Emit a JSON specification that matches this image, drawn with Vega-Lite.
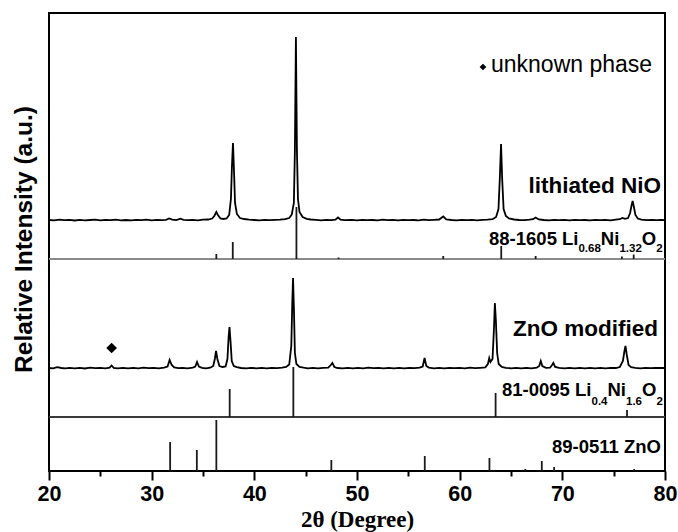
{
  "$schema": "https://vega.github.io/schema/vega-lite/v6.json",
  "width": 616,
  "height": 458,
  "autosize": "none",
  "padding": {"left": 49, "top": 13, "right": 13, "bottom": 61},
  "config": {"view": {"stroke": "#000", "strokeWidth": 2}, "font": "Liberation Sans"},
  "datasets": {
    "sep": [{"x": 20, "x2": 80, "y": 212, "c": "a"}, {"x": 20, "x2": 80, "y": 54, "c": "b"}],
    "sticks": [
      {"x": 36.3, "y": 212, "y2": 217}, {"x": 37.9, "y": 212, "y2": 229}, {"x": 44.1, "y": 212, "y2": 264},
      {"x": 48.2, "y": 212, "y2": 213.5}, {"x": 58.4, "y": 212, "y2": 215}, {"x": 64.05, "y": 212, "y2": 225},
      {"x": 67.4, "y": 212, "y2": 215}, {"x": 75.8, "y": 212, "y2": 214.5}, {"x": 76.95, "y": 212, "y2": 216.5},
      {"x": 37.6, "y": 54, "y2": 82}, {"x": 43.8, "y": 54, "y2": 104}, {"x": 63.5, "y": 54, "y2": 78}, {"x": 76.3, "y": 54, "y2": 61},
      {"x": 31.8, "y": 0, "y2": 29}, {"x": 34.4, "y": 0, "y2": 21}, {"x": 36.3, "y": 0, "y2": 51}, {"x": 47.5, "y": 0, "y2": 11},
      {"x": 56.6, "y": 0, "y2": 15}, {"x": 62.9, "y": 0, "y2": 13}, {"x": 66.4, "y": 0, "y2": 2}, {"x": 68.0, "y": 0, "y2": 10},
      {"x": 69.2, "y": 0, "y2": 4}, {"x": 77.0, "y": 0, "y2": 2}
    ],
    "pat": [
      {"s": "a", "x": 20, "y": 251.0}, {"s": "a", "x": 20.5, "y": 250.6}, {"s": "a", "x": 21, "y": 251.3}, {"s": "a", "x": 21.5, "y": 250.8},
      {"s": "a", "x": 22, "y": 251.1}, {"s": "a", "x": 22.5, "y": 250.5}, {"s": "a", "x": 23, "y": 251.2}, {"s": "a", "x": 23.5, "y": 250.7},
      {"s": "a", "x": 24, "y": 251.0}, {"s": "a", "x": 24.5, "y": 251.4}, {"s": "a", "x": 25, "y": 250.6}, {"s": "a", "x": 25.5, "y": 251.1},
      {"s": "a", "x": 26, "y": 250.8}, {"s": "a", "x": 26.5, "y": 251.3}, {"s": "a", "x": 27, "y": 250.7}, {"s": "a", "x": 27.5, "y": 251.0},
      {"s": "a", "x": 28, "y": 250.6}, {"s": "a", "x": 28.5, "y": 251.2}, {"s": "a", "x": 29, "y": 250.9}, {"s": "a", "x": 29.5, "y": 251.3},
      {"s": "a", "x": 30, "y": 250.7}, {"s": "a", "x": 30.5, "y": 251.1}, {"s": "a", "x": 31, "y": 250.8}, {"s": "a", "x": 31.4, "y": 251.2},
      {"s": "a", "x": 31.7, "y": 252.6}, {"s": "a", "x": 32.0, "y": 251.3}, {"s": "a", "x": 32.4, "y": 250.9}, {"s": "a", "x": 32.8, "y": 252.4},
      {"s": "a", "x": 33.1, "y": 251.2}, {"s": "a", "x": 33.5, "y": 250.8}, {"s": "a", "x": 34, "y": 251.1}, {"s": "a", "x": 34.5, "y": 250.7},
      {"s": "a", "x": 35, "y": 251.3}, {"s": "a", "x": 35.5, "y": 251.5}, {"s": "a", "x": 35.9, "y": 252.5}, {"s": "a", "x": 36.1, "y": 255},
      {"s": "a", "x": 36.3, "y": 259}, {"s": "a", "x": 36.45, "y": 256}, {"s": "a", "x": 36.7, "y": 252.5}, {"s": "a", "x": 37.0, "y": 252},
      {"s": "a", "x": 37.3, "y": 252.5}, {"s": "a", "x": 37.55, "y": 256}, {"s": "a", "x": 37.72, "y": 272}, {"s": "a", "x": 37.82, "y": 305},
      {"s": "a", "x": 37.92, "y": 328}, {"s": "a", "x": 38.02, "y": 300}, {"s": "a", "x": 38.12, "y": 268}, {"s": "a", "x": 38.3, "y": 257},
      {"s": "a", "x": 38.6, "y": 253}, {"s": "a", "x": 39, "y": 252}, {"s": "a", "x": 39.5, "y": 251.3}, {"s": "a", "x": 40, "y": 251.0},
      {"s": "a", "x": 40.5, "y": 250.6}, {"s": "a", "x": 41, "y": 251.2}, {"s": "a", "x": 41.5, "y": 250.8}, {"s": "a", "x": 42, "y": 251.1},
      {"s": "a", "x": 42.5, "y": 251.3}, {"s": "a", "x": 43, "y": 251.8}, {"s": "a", "x": 43.4, "y": 253}, {"s": "a", "x": 43.65, "y": 256.5},
      {"s": "a", "x": 43.85, "y": 268}, {"s": "a", "x": 43.95, "y": 320}, {"s": "a", "x": 44.05, "y": 434}, {"s": "a", "x": 44.15, "y": 320},
      {"s": "a", "x": 44.25, "y": 272}, {"s": "a", "x": 44.4, "y": 259}, {"s": "a", "x": 44.7, "y": 254}, {"s": "a", "x": 45.1, "y": 252.2},
      {"s": "a", "x": 45.5, "y": 251.5}, {"s": "a", "x": 46, "y": 251.1}, {"s": "a", "x": 46.5, "y": 250.7}, {"s": "a", "x": 47, "y": 251.2},
      {"s": "a", "x": 47.5, "y": 250.8}, {"s": "a", "x": 47.9, "y": 251.3}, {"s": "a", "x": 48.15, "y": 253.5}, {"s": "a", "x": 48.4, "y": 251.4},
      {"s": "a", "x": 48.8, "y": 250.8}, {"s": "a", "x": 49.5, "y": 251.1}, {"s": "a", "x": 50, "y": 250.7}, {"s": "a", "x": 50.5, "y": 251.2},
      {"s": "a", "x": 51, "y": 250.8}, {"s": "a", "x": 51.5, "y": 251.0}, {"s": "a", "x": 52, "y": 250.6}, {"s": "a", "x": 52.5, "y": 251.3},
      {"s": "a", "x": 53, "y": 250.9}, {"s": "a", "x": 53.5, "y": 251.1}, {"s": "a", "x": 54, "y": 250.7}, {"s": "a", "x": 54.5, "y": 251.2},
      {"s": "a", "x": 55, "y": 250.8}, {"s": "a", "x": 55.5, "y": 251.0}, {"s": "a", "x": 56, "y": 250.6}, {"s": "a", "x": 56.5, "y": 251.3},
      {"s": "a", "x": 57, "y": 250.9}, {"s": "a", "x": 57.5, "y": 251.2}, {"s": "a", "x": 58.0, "y": 251.5}, {"s": "a", "x": 58.4, "y": 254.5},
      {"s": "a", "x": 58.7, "y": 251.6}, {"s": "a", "x": 59.2, "y": 251.0}, {"s": "a", "x": 59.7, "y": 250.7}, {"s": "a", "x": 60.2, "y": 251.2},
      {"s": "a", "x": 60.7, "y": 250.8}, {"s": "a", "x": 61.2, "y": 251.1}, {"s": "a", "x": 61.7, "y": 250.7}, {"s": "a", "x": 62.2, "y": 251.2},
      {"s": "a", "x": 62.7, "y": 251.4}, {"s": "a", "x": 63.2, "y": 251.8}, {"s": "a", "x": 63.55, "y": 254}, {"s": "a", "x": 63.78, "y": 262},
      {"s": "a", "x": 63.92, "y": 295}, {"s": "a", "x": 64.03, "y": 327}, {"s": "a", "x": 64.14, "y": 292}, {"s": "a", "x": 64.28, "y": 262},
      {"s": "a", "x": 64.5, "y": 255}, {"s": "a", "x": 64.8, "y": 252.5}, {"s": "a", "x": 65.3, "y": 251.5}, {"s": "a", "x": 65.8, "y": 251.0},
      {"s": "a", "x": 66.3, "y": 250.8}, {"s": "a", "x": 66.8, "y": 251.3}, {"s": "a", "x": 67.15, "y": 251.8}, {"s": "a", "x": 67.4, "y": 253.5},
      {"s": "a", "x": 67.7, "y": 251.6}, {"s": "a", "x": 68.2, "y": 251.0}, {"s": "a", "x": 68.7, "y": 250.7}, {"s": "a", "x": 69.2, "y": 251.2},
      {"s": "a", "x": 69.7, "y": 250.8}, {"s": "a", "x": 70.2, "y": 251.1}, {"s": "a", "x": 70.7, "y": 250.6}, {"s": "a", "x": 71.2, "y": 251.2},
      {"s": "a", "x": 71.7, "y": 250.8}, {"s": "a", "x": 72.2, "y": 251.0}, {"s": "a", "x": 72.7, "y": 250.6}, {"s": "a", "x": 73.2, "y": 251.2},
      {"s": "a", "x": 73.7, "y": 250.8}, {"s": "a", "x": 74.2, "y": 251.1}, {"s": "a", "x": 74.7, "y": 250.7}, {"s": "a", "x": 75.2, "y": 251.3},
      {"s": "a", "x": 75.6, "y": 251.8}, {"s": "a", "x": 75.85, "y": 253}, {"s": "a", "x": 76.1, "y": 252.2}, {"s": "a", "x": 76.4, "y": 253},
      {"s": "a", "x": 76.6, "y": 258}, {"s": "a", "x": 76.75, "y": 266}, {"s": "a", "x": 76.85, "y": 270}, {"s": "a", "x": 76.97, "y": 264},
      {"s": "a", "x": 77.12, "y": 256}, {"s": "a", "x": 77.35, "y": 252.5}, {"s": "a", "x": 77.7, "y": 251.3}, {"s": "a", "x": 78.2, "y": 250.9},
      {"s": "a", "x": 78.7, "y": 251.2}, {"s": "a", "x": 79.2, "y": 250.8}, {"s": "a", "x": 79.6, "y": 251.1}, {"s": "a", "x": 80, "y": 250.9},

      {"s": "b", "x": 20, "y": 103.0}, {"s": "b", "x": 20.4, "y": 102.6}, {"s": "b", "x": 20.8, "y": 103.8}, {"s": "b", "x": 21.2, "y": 103.0},
      {"s": "b", "x": 21.6, "y": 102.6}, {"s": "b", "x": 22, "y": 103.2}, {"s": "b", "x": 22.5, "y": 102.7}, {"s": "b", "x": 23, "y": 103.1},
      {"s": "b", "x": 23.5, "y": 102.5}, {"s": "b", "x": 24, "y": 103.3}, {"s": "b", "x": 24.5, "y": 102.8}, {"s": "b", "x": 25, "y": 103.1},
      {"s": "b", "x": 25.5, "y": 102.6}, {"s": "b", "x": 25.9, "y": 103.3}, {"s": "b", "x": 26.1, "y": 105.5}, {"s": "b", "x": 26.3, "y": 103.2},
      {"s": "b", "x": 26.7, "y": 102.7}, {"s": "b", "x": 27.2, "y": 103.2}, {"s": "b", "x": 27.7, "y": 102.6}, {"s": "b", "x": 28.2, "y": 103.1},
      {"s": "b", "x": 28.7, "y": 102.7}, {"s": "b", "x": 29.2, "y": 103.3}, {"s": "b", "x": 29.7, "y": 102.8}, {"s": "b", "x": 30.2, "y": 103.1},
      {"s": "b", "x": 30.7, "y": 102.6}, {"s": "b", "x": 31.2, "y": 103.3}, {"s": "b", "x": 31.55, "y": 104.5}, {"s": "b", "x": 31.75, "y": 111},
      {"s": "b", "x": 31.95, "y": 106}, {"s": "b", "x": 32.2, "y": 103.5}, {"s": "b", "x": 32.6, "y": 102.8}, {"s": "b", "x": 33.0, "y": 103.2},
      {"s": "b", "x": 33.5, "y": 102.7}, {"s": "b", "x": 34.0, "y": 103.4}, {"s": "b", "x": 34.25, "y": 104.5}, {"s": "b", "x": 34.42, "y": 109},
      {"s": "b", "x": 34.6, "y": 104.5}, {"s": "b", "x": 34.9, "y": 103.1}, {"s": "b", "x": 35.3, "y": 102.7}, {"s": "b", "x": 35.7, "y": 103.3},
      {"s": "b", "x": 36.0, "y": 105}, {"s": "b", "x": 36.15, "y": 112}, {"s": "b", "x": 36.27, "y": 120}, {"s": "b", "x": 36.4, "y": 112},
      {"s": "b", "x": 36.6, "y": 105}, {"s": "b", "x": 36.9, "y": 104}, {"s": "b", "x": 37.2, "y": 104.5}, {"s": "b", "x": 37.38, "y": 112},
      {"s": "b", "x": 37.5, "y": 135}, {"s": "b", "x": 37.58, "y": 144}, {"s": "b", "x": 37.68, "y": 130}, {"s": "b", "x": 37.8, "y": 110},
      {"s": "b", "x": 38.0, "y": 105}, {"s": "b", "x": 38.3, "y": 103.8}, {"s": "b", "x": 38.7, "y": 103.0}, {"s": "b", "x": 39.2, "y": 102.6},
      {"s": "b", "x": 39.7, "y": 103.2}, {"s": "b", "x": 40.2, "y": 102.7}, {"s": "b", "x": 40.7, "y": 103.1}, {"s": "b", "x": 41.2, "y": 102.6},
      {"s": "b", "x": 41.7, "y": 103.2}, {"s": "b", "x": 42.2, "y": 102.8}, {"s": "b", "x": 42.7, "y": 103.3}, {"s": "b", "x": 43.1, "y": 104},
      {"s": "b", "x": 43.4, "y": 106.5}, {"s": "b", "x": 43.6, "y": 125}, {"s": "b", "x": 43.7, "y": 170}, {"s": "b", "x": 43.77, "y": 193},
      {"s": "b", "x": 43.86, "y": 160}, {"s": "b", "x": 43.95, "y": 118}, {"s": "b", "x": 44.1, "y": 107}, {"s": "b", "x": 44.4, "y": 104},
      {"s": "b", "x": 44.8, "y": 103.3}, {"s": "b", "x": 45.2, "y": 102.7}, {"s": "b", "x": 45.7, "y": 103.2}, {"s": "b", "x": 46.2, "y": 102.6},
      {"s": "b", "x": 46.7, "y": 103.1}, {"s": "b", "x": 47.2, "y": 103.3}, {"s": "b", "x": 47.45, "y": 106}, {"s": "b", "x": 47.6, "y": 108},
      {"s": "b", "x": 47.8, "y": 104}, {"s": "b", "x": 48.1, "y": 103.0}, {"s": "b", "x": 48.6, "y": 102.6}, {"s": "b", "x": 49.1, "y": 103.2},
      {"s": "b", "x": 49.6, "y": 102.7}, {"s": "b", "x": 50.1, "y": 103.1}, {"s": "b", "x": 50.6, "y": 102.6}, {"s": "b", "x": 51.1, "y": 103.3},
      {"s": "b", "x": 51.6, "y": 102.8}, {"s": "b", "x": 52.1, "y": 103.1}, {"s": "b", "x": 52.6, "y": 102.6}, {"s": "b", "x": 53.1, "y": 103.2},
      {"s": "b", "x": 53.6, "y": 102.7}, {"s": "b", "x": 54.1, "y": 103.1}, {"s": "b", "x": 54.6, "y": 102.6}, {"s": "b", "x": 55.1, "y": 103.2},
      {"s": "b", "x": 55.6, "y": 102.8}, {"s": "b", "x": 56.1, "y": 103.3}, {"s": "b", "x": 56.4, "y": 104.5}, {"s": "b", "x": 56.58, "y": 113},
      {"s": "b", "x": 56.75, "y": 105}, {"s": "b", "x": 57.0, "y": 103.4}, {"s": "b", "x": 57.5, "y": 102.7}, {"s": "b", "x": 58.0, "y": 103.1},
      {"s": "b", "x": 58.5, "y": 102.6}, {"s": "b", "x": 59.0, "y": 103.2}, {"s": "b", "x": 59.5, "y": 102.8}, {"s": "b", "x": 60.0, "y": 103.1},
      {"s": "b", "x": 60.5, "y": 102.6}, {"s": "b", "x": 61.0, "y": 103.3}, {"s": "b", "x": 61.5, "y": 102.8}, {"s": "b", "x": 62.0, "y": 103.2},
      {"s": "b", "x": 62.5, "y": 103.6}, {"s": "b", "x": 62.75, "y": 107}, {"s": "b", "x": 62.88, "y": 113}, {"s": "b", "x": 63.0, "y": 109},
      {"s": "b", "x": 63.2, "y": 112}, {"s": "b", "x": 63.33, "y": 140}, {"s": "b", "x": 63.43, "y": 168}, {"s": "b", "x": 63.53, "y": 150},
      {"s": "b", "x": 63.65, "y": 118}, {"s": "b", "x": 63.8, "y": 107}, {"s": "b", "x": 64.1, "y": 104}, {"s": "b", "x": 64.5, "y": 103.2},
      {"s": "b", "x": 65.0, "y": 102.7}, {"s": "b", "x": 65.5, "y": 103.2}, {"s": "b", "x": 66.0, "y": 102.6}, {"s": "b", "x": 66.5, "y": 103.1},
      {"s": "b", "x": 67.0, "y": 102.7}, {"s": "b", "x": 67.5, "y": 103.3}, {"s": "b", "x": 67.75, "y": 105}, {"s": "b", "x": 67.9, "y": 110},
      {"s": "b", "x": 68.05, "y": 105}, {"s": "b", "x": 68.4, "y": 103.2}, {"s": "b", "x": 68.8, "y": 103.3}, {"s": "b", "x": 69.0, "y": 106},
      {"s": "b", "x": 69.12, "y": 108}, {"s": "b", "x": 69.3, "y": 104}, {"s": "b", "x": 69.7, "y": 103.1}, {"s": "b", "x": 70.2, "y": 102.7},
      {"s": "b", "x": 70.7, "y": 103.2}, {"s": "b", "x": 71.2, "y": 102.6}, {"s": "b", "x": 71.7, "y": 103.1}, {"s": "b", "x": 72.2, "y": 102.7},
      {"s": "b", "x": 72.7, "y": 103.2}, {"s": "b", "x": 73.2, "y": 102.6}, {"s": "b", "x": 73.7, "y": 103.1}, {"s": "b", "x": 74.2, "y": 102.7},
      {"s": "b", "x": 74.7, "y": 103.2}, {"s": "b", "x": 75.2, "y": 103.0}, {"s": "b", "x": 75.6, "y": 104}, {"s": "b", "x": 75.9, "y": 110},
      {"s": "b", "x": 76.05, "y": 120}, {"s": "b", "x": 76.15, "y": 125}, {"s": "b", "x": 76.28, "y": 116}, {"s": "b", "x": 76.45, "y": 106},
      {"s": "b", "x": 76.7, "y": 103.8}, {"s": "b", "x": 77.1, "y": 103.1}, {"s": "b", "x": 77.6, "y": 102.7}, {"s": "b", "x": 78.1, "y": 103.2},
      {"s": "b", "x": 78.6, "y": 102.8}, {"s": "b", "x": 79.1, "y": 103.0}, {"s": "b", "x": 80, "y": 103.0}
    ],
    "bigMark": [{"x": 26.1, "y": 123}],
    "smallMark": [{"x": 62.27, "y": 404}],
    "bigText": [{"x": 79.61, "y": 278, "t": "lithiated NiO"}, {"x": 79.32, "y": 135, "t": "ZnO modified"}],
    "refRight": [{"x": 79.61, "y": 18, "t": "89-0511 ZnO"}],
    "refMain": [
      {"x": 62.86, "y": 226, "t": "88-1605 Li"}, {"x": 73.75, "y": 226, "t": "Ni"}, {"x": 77.74, "y": 226, "t": "O"},
      {"x": 64.12, "y": 75, "t": "81-0095 Li"}, {"x": 74.40, "y": 75, "t": "Ni"}, {"x": 77.76, "y": 75, "t": "O"}
    ],
    "refSub": [
      {"x": 71.57, "y": 219, "t": "0.68"}, {"x": 75.56, "y": 219, "t": "1.32"}, {"x": 79.14, "y": 219, "t": "2"},
      {"x": 72.84, "y": 66, "t": "0.4"}, {"x": 76.20, "y": 66, "t": "1.6"}, {"x": 79.16, "y": 66, "t": "2"}
    ],
    "legendText": [{"x": 63.05, "y": 399, "t": "unknown phase"}]
  },
  "encoding": {
    "x": {
      "field": "x", "type": "quantitative",
      "scale": {"domain": [20, 80], "nice": false, "zero": false},
      "axis": {
        "values": [20, 25, 30, 35, 40, 45, 50, 55, 60, 65, 70, 75, 80],
        "labelExpr": "datum.value % 10 === 0 ? datum.label : ''",
        "tickSize": {"condition": {"test": "datum.value % 10 === 0", "value": 9}, "value": 5},
        "tickWidth": 2, "tickColor": "#000", "domain": false, "grid": false,
        "labelFont": "Liberation Sans", "labelFontWeight": "bold", "labelFontSize": 21.5, "labelColor": "#000",
        "labelPadding": 3, "labelFlush": false, "labelOverlap": false,
        "title": "2θ (Degree)", "titleFont": "Liberation Serif", "titleFontSize": 23, "titleFontWeight": "bold",
        "titleColor": "#000", "titleY": 55, "titleBaseline": "alphabetic"
      }
    },
    "y": {
      "field": "y", "type": "quantitative",
      "scale": {"domain": [0, 458], "nice": false, "zero": false},
      "axis": {
        "title": "Relative Intensity (a.u.)", "ticks": false, "labels": false, "domain": false, "grid": false,
        "titleFont": "Liberation Sans", "titleFontSize": 24.5, "titleFontWeight": "bold", "titleColor": "#000",
        "titleX": -13, "titleY": 226, "titleAngle": -90, "titleBaseline": "bottom", "titleAlign": "center"
      }
    }
  },
  "layer": [
    {
      "data": {"name": "sep"},
      "mark": {"type": "rule", "strokeWidth": 1.8},
      "encoding": {
        "x2": {"field": "x2"},
        "color": {"field": "c", "type": "nominal", "scale": {"domain": ["a", "b"], "range": ["#8a8a8a", "#3a3a3a"]}, "legend": null}
      }
    },
    {
      "data": {"name": "sticks"},
      "mark": {"type": "rule", "strokeWidth": 1.8, "color": "#1a1a1a"},
      "encoding": {"y2": {"field": "y2"}}
    },
    {
      "data": {"name": "pat"},
      "mark": {"type": "line", "strokeWidth": 1.8, "color": "#000"},
      "encoding": {"detail": {"field": "s"}}
    },
    {
      "data": {"name": "bigMark"},
      "mark": {"type": "point", "shape": "diamond", "filled": true, "size": 115, "color": "#000", "opacity": 1},
      "encoding": {}
    },
    {
      "data": {"name": "smallMark"},
      "mark": {"type": "point", "shape": "diamond", "filled": true, "size": 45, "color": "#000", "opacity": 1},
      "encoding": {}
    },
    {
      "data": {"name": "bigText"},
      "mark": {"type": "text", "align": "right", "baseline": "alphabetic", "font": "Liberation Sans", "fontWeight": "bold", "fontSize": 22.5, "color": "#000"},
      "encoding": {"text": {"field": "t"}}
    },
    {
      "data": {"name": "refRight"},
      "mark": {"type": "text", "align": "right", "baseline": "alphabetic", "font": "Liberation Sans", "fontWeight": "bold", "fontSize": 18.5, "color": "#000"},
      "encoding": {"text": {"field": "t"}}
    },
    {
      "data": {"name": "refMain"},
      "mark": {"type": "text", "align": "left", "baseline": "alphabetic", "font": "Liberation Sans", "fontWeight": "bold", "fontSize": 18.5, "color": "#000"},
      "encoding": {"text": {"field": "t"}}
    },
    {
      "data": {"name": "refSub"},
      "mark": {"type": "text", "align": "left", "baseline": "alphabetic", "font": "Liberation Sans", "fontWeight": "bold", "fontSize": 11.5, "color": "#000"},
      "encoding": {"text": {"field": "t"}}
    },
    {
      "data": {"name": "legendText"},
      "mark": {"type": "text", "align": "left", "baseline": "alphabetic", "font": "Liberation Sans", "fontSize": 23, "color": "#000"},
      "encoding": {"text": {"field": "t"}}
    }
  ]
}
